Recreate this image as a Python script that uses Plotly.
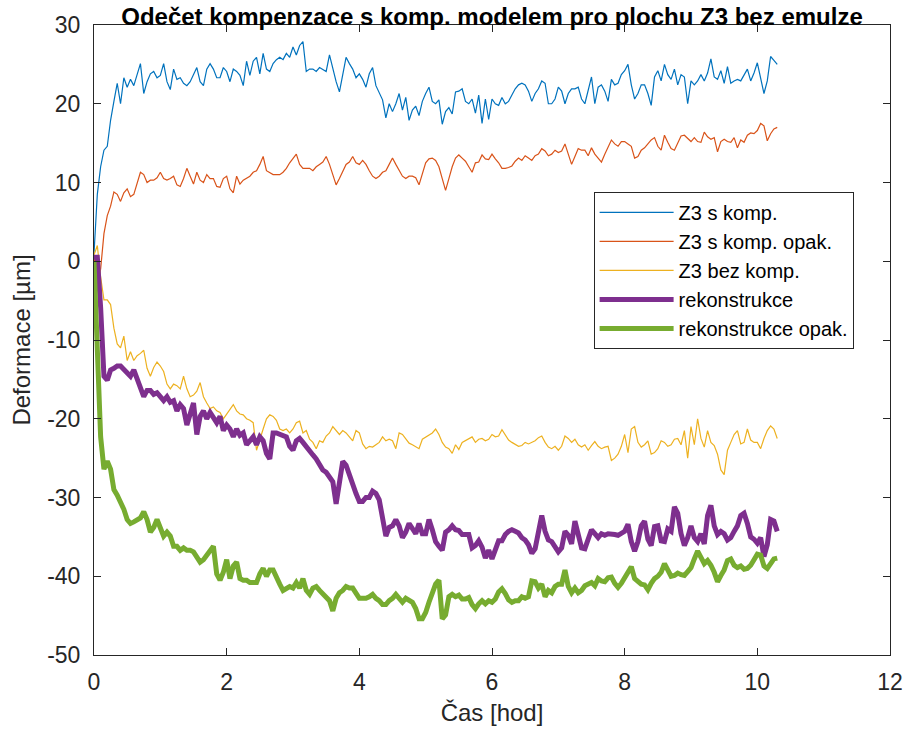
import numpy as np
import plotly.graph_objects as go

# Sampling times [h], one sample every 3 minutes
cas_hod = np.round(np.arange(207) * 0.05, 2)

# Axis ticks and their labels (plain hyphen as the minus sign)
x_ticks = [0, 2, 4, 6, 8, 10, 12]
y_ticks = [-50, -40, -30, -20, -10, 0, 10, 20, 30]
y_tick_labels = ["-50", "-40", "-30", "-20", "-10", "0", "10", "20", "30"]

z3_s_komp = [
    1.0, 8.5, 12.0, 14.1, 14.6, 17.9, 20.3, 22.6, 20.0, 23.3,
    22.1, 23.1, 22.3, 23.8, 25.1, 21.3, 22.8, 23.8, 24.1, 23.3,
    23.6, 25.1, 22.8, 21.8, 24.4, 23.1, 23.3, 22.6, 22.3, 22.8,
    23.6, 24.6, 22.8, 22.3, 24.4, 25.1, 24.4, 23.3, 23.3, 24.6,
    24.1, 22.8, 24.4, 24.1, 23.6, 22.3, 25.4, 23.6, 25.4, 25.9,
    23.8, 26.4, 24.4, 24.1, 25.1, 25.6, 25.9, 25.6, 26.4, 25.9,
    27.2, 26.2, 27.4, 27.9, 24.1, 24.4, 24.4, 24.1, 24.6, 24.4,
    24.1, 26.2, 24.4, 22.8, 21.5, 23.8, 25.9, 25.1, 24.4, 23.3,
    23.8, 23.1, 22.1, 23.8, 24.6, 22.3, 21.5, 20.5, 18.2, 20.0,
    19.0, 20.0, 21.3, 19.2, 20.8, 17.9, 19.2, 19.7, 18.5, 20.3,
    21.3, 22.1, 20.3, 20.0, 20.5, 17.4, 19.0, 19.5, 18.7, 21.5,
    21.6, 21.9, 20.3, 20.0, 20.6, 18.8, 21.1, 17.5, 20.6, 18.0,
    20.6, 20.0, 19.8, 20.8, 20.0, 20.3, 21.1, 21.9, 22.4, 22.6,
    22.4, 21.6, 20.3, 21.3, 21.9, 22.9, 22.6, 20.0, 20.0, 20.6,
    22.1, 21.6, 20.0, 21.3, 21.9, 21.9, 22.1, 20.6, 20.0, 21.9,
    23.4, 20.0, 22.1, 22.4, 21.6, 20.3, 23.1, 22.4, 22.6, 23.7,
    24.2, 25.0, 22.4, 20.6, 21.3, 22.4, 22.4, 21.3, 19.8, 23.4,
    24.2, 22.9, 25.0, 23.7, 23.1, 24.4, 22.4, 23.7, 23.4, 20.0,
    22.9, 22.4, 22.9, 23.7, 22.9, 23.9, 25.7, 23.4, 23.1, 24.2,
    22.6, 24.7, 22.6, 22.9, 23.1, 22.9, 23.7, 24.4, 22.9, 23.9,
    25.2, 23.1, 21.3, 22.9, 26.0, 25.5, 25.0,
]

z3_s_komp_opak = [
    0.5, -2.5, -1.0, 3.5, 5.8, 7.0, 8.8, 8.5, 7.6, 8.7,
    9.2, 8.2, 8.5, 10.0, 11.3, 11.0, 10.0, 10.3, 10.3, 10.6,
    11.3, 10.5, 10.3, 10.5, 10.8, 9.7, 9.5, 10.5, 11.8, 10.8,
    9.8, 11.3, 10.3, 10.0, 11.0, 10.5, 10.5, 9.5, 9.4, 10.5,
    10.8, 9.2, 8.7, 10.8, 9.8, 10.3, 10.6, 10.8, 11.3, 11.5,
    12.3, 13.3, 11.5, 11.3, 11.0, 11.0, 11.0, 11.3, 11.8, 12.5,
    13.0, 13.6, 12.3, 11.8, 11.8, 11.8, 11.5, 12.0, 12.3, 12.6,
    13.3, 12.3, 11.0, 9.7, 10.5, 11.5, 12.3, 12.6, 13.3, 12.5,
    12.3, 12.8, 12.3, 11.5, 10.8, 10.5, 10.8, 11.3, 11.5, 12.3,
    13.1, 12.3, 11.5, 10.8, 10.5, 10.8, 10.8, 10.6, 9.7, 11.0,
    12.5, 13.0, 13.1, 12.8, 12.0, 10.5, 9.0, 10.5, 12.0, 13.1,
    13.5, 13.1, 12.7, 12.0, 11.3, 12.5, 12.6, 13.5, 13.0, 12.9,
    13.6, 13.0, 12.5, 11.8, 11.8, 11.9, 12.1, 12.7, 13.1, 12.8,
    13.4, 13.1, 12.8, 13.4, 13.6, 14.3, 14.0, 13.4, 13.6, 14.1,
    13.8, 14.0, 14.9, 13.6, 12.3, 13.3, 14.3, 14.1, 14.1, 13.4,
    14.4, 13.6, 13.1, 12.6, 13.6, 14.6, 15.4, 14.9, 14.6, 15.2,
    15.2, 14.9, 14.6, 13.1, 13.3, 14.1, 14.4, 14.9, 15.4, 15.7,
    14.6, 14.1, 16.0, 15.1, 14.3, 14.1, 15.1, 15.9, 16.0, 15.6,
    15.2, 15.7, 15.2, 15.1, 16.4, 15.8, 15.5, 15.7, 13.9, 15.2,
    15.5, 15.2, 15.1, 15.7, 14.4, 15.4, 15.1, 16.0, 16.3, 16.2,
    16.6, 17.5, 17.2, 15.3, 16.2, 16.8, 17.0,
]

z3_bez_komp = [
    0.8, 2.0, -2.0, -4.9, -4.9, -5.5, -8.5, -10.5, -11.0, -9.5,
    -12.6, -11.5, -12.6, -12.0, -11.7, -11.3, -13.6, -14.6, -13.5, -12.8,
    -13.3, -14.0, -15.6, -16.2, -15.6, -15.8, -16.2, -14.6, -16.2, -17.2,
    -17.0, -16.5, -15.4, -17.2, -18.0, -18.7, -18.5, -19.0, -19.2, -20.0,
    -19.4, -18.8, -18.2, -19.0, -19.4, -19.5, -20.0, -20.2, -20.5, -24.0,
    -22.5, -21.3, -20.0, -19.5, -19.7, -20.2, -21.3, -21.5, -21.3, -21.8,
    -21.3, -20.5, -20.3, -21.8, -21.5, -22.6, -23.0, -23.8, -22.8, -23.0,
    -22.2, -21.8, -21.0, -21.5, -22.0, -21.5, -21.8, -22.3, -22.8, -21.5,
    -21.8, -23.2, -23.8, -23.5, -23.6, -23.3, -23.0, -22.3, -22.8, -22.6,
    -22.8, -23.8, -21.8, -22.0, -22.5, -23.1, -23.3, -23.6, -23.8, -22.6,
    -22.3, -22.0, -21.8, -21.3, -22.0, -23.0, -23.6, -23.8, -24.4, -23.3,
    -23.9, -23.0, -22.8, -22.5, -22.3, -23.0, -22.6, -22.5, -22.8, -22.6,
    -22.0, -22.3, -22.2, -21.4, -22.0, -22.7, -23.0, -23.3, -23.5, -23.4,
    -23.0, -23.2, -23.0, -22.8, -22.4, -22.2, -23.0, -23.6, -23.8, -23.5,
    -24.0, -23.5, -22.2, -22.5, -23.0, -22.6, -23.3, -23.6, -23.3, -24.0,
    -23.4, -22.9, -23.5, -23.8, -23.6, -23.5, -25.3, -25.0, -24.5, -23.5,
    -22.0, -24.3, -21.3, -21.0, -23.0, -23.6, -23.3, -22.8, -24.5, -24.3,
    -23.8, -22.8, -23.0, -23.5, -23.3, -22.6, -22.5, -23.3, -21.5, -25.0,
    -21.0, -23.3, -20.0, -22.5, -23.6, -21.5, -23.0, -23.4, -24.5, -26.5,
    -27.1, -24.0, -23.0, -22.0, -21.5, -23.2, -23.0, -21.3, -22.7, -23.0,
    -23.0, -23.8, -22.5, -21.5, -20.9, -21.3, -22.5,
]

rekonstrukce = [
    0.5, 0.5, -5.9, -14.6, -15.1, -13.8, -13.6, -13.3, -13.3, -13.8,
    -14.1, -14.6, -13.8, -14.9, -16.2, -17.2, -16.4, -16.4, -16.9, -16.7,
    -17.2, -17.7, -17.2, -17.9, -17.7, -19.0, -18.2, -18.7, -20.8, -19.5,
    -18.0, -22.0, -19.7, -19.0, -20.0, -19.2, -19.8, -20.5, -19.7, -21.5,
    -20.8, -21.3, -22.3, -21.3, -22.1, -21.8, -23.3, -22.8, -22.3, -23.3,
    -22.3, -22.8, -24.4, -25.1, -21.8, -21.8, -22.0, -22.1, -22.3, -23.5,
    -24.0, -22.8, -22.5, -23.0, -23.6, -24.1, -24.6, -25.1, -25.8, -26.5,
    -26.8, -27.3, -28.0, -30.8, -27.5, -25.4, -25.9, -27.2, -28.2, -29.5,
    -30.5, -30.5, -30.0, -30.0, -29.2, -29.5, -30.3, -32.3, -34.9, -33.8,
    -33.6, -32.8, -33.6, -35.1, -34.4, -33.3, -34.1, -34.6, -33.3, -34.6,
    -34.6, -32.8, -34.1, -35.6, -36.2, -36.7, -34.4, -34.1, -33.6, -34.1,
    -34.2, -34.7, -34.7, -34.7, -36.4, -36.1, -35.5, -36.3, -37.7, -36.7,
    -37.8, -36.7, -35.5, -35.5, -34.7, -34.3, -34.1, -34.3, -34.5, -35.1,
    -35.4, -36.0, -37.1, -36.5, -34.6, -32.3, -34.3, -35.4, -35.6, -36.4,
    -36.9, -36.4, -34.3, -34.8, -35.9, -33.0, -35.0, -36.4, -36.5, -35.3,
    -34.1, -34.6, -35.1, -34.6, -34.8, -34.6, -34.6, -34.7, -34.8, -34.6,
    -34.3, -33.4, -35.6, -36.8, -35.6, -33.6, -33.0, -35.3, -36.1, -33.7,
    -33.6, -35.5, -35.6, -34.0, -34.3, -31.2, -32.0, -34.6, -36.1, -35.1,
    -33.6, -35.1, -35.6, -34.6, -35.9, -32.3, -31.0, -33.6, -34.7, -34.3,
    -34.6, -35.4, -35.1, -34.3, -33.6, -32.3, -32.0, -33.3, -35.0, -35.3,
    -35.8, -35.1, -37.5, -36.0, -32.8, -33.0, -34.3,
]

rekonstrukce_opak = [
    0.0, -12.0, -22.3, -26.4, -25.4, -26.4, -29.0, -29.7, -30.5, -31.5,
    -32.8, -33.3, -33.1, -32.8, -32.6, -31.8, -32.8, -34.4, -33.8, -32.8,
    -33.8, -34.9, -34.4, -34.9, -36.2, -36.2, -36.7, -36.4, -36.7, -36.7,
    -36.9, -37.7, -38.2, -37.9, -37.4, -36.9, -36.2, -39.7, -40.5, -39.5,
    -37.9, -40.3, -38.7, -38.2, -40.3, -40.5, -40.5, -40.8, -40.8, -40.8,
    -39.7, -39.0, -40.0, -39.2, -39.2, -40.3, -41.0, -41.8, -41.5, -41.3,
    -41.5, -40.8, -41.5, -40.3, -41.8, -42.3, -41.5, -41.3, -41.8, -42.3,
    -42.8, -43.1, -44.4, -42.8, -42.1, -41.8, -41.3, -41.5, -41.5, -42.3,
    -42.8, -42.8, -42.8, -42.6, -42.3, -42.8, -43.1, -43.6, -43.6, -43.1,
    -42.8, -42.3, -42.8, -43.3, -42.8, -43.1, -43.3, -44.1, -45.4, -45.4,
    -44.6, -43.3, -42.3, -41.0, -40.5, -45.4, -44.9, -42.6, -42.3, -42.6,
    -42.4, -42.9, -42.9, -42.7, -43.6, -44.1, -43.5, -43.1, -43.5, -43.1,
    -43.3, -42.9, -42.0, -41.6, -42.2, -43.0, -43.3, -43.1, -43.1, -42.6,
    -42.8, -42.6, -40.6, -40.7, -41.5, -41.0, -42.6, -41.8, -42.1, -41.3,
    -41.0, -41.0, -39.2, -41.3, -42.1, -41.5, -42.1, -41.8, -41.2, -41.0,
    -40.8, -41.2, -40.3, -40.6, -40.7, -40.2, -40.1, -40.9, -41.4, -40.9,
    -40.2, -39.6, -38.8, -40.3, -40.6, -41.0, -41.1, -41.7, -40.9, -40.3,
    -40.0, -39.5, -38.4, -39.3, -40.0, -39.9, -39.6, -39.8, -39.9, -39.4,
    -38.9, -37.8, -36.8, -37.6, -38.4, -38.0, -38.6, -39.5, -40.7, -39.9,
    -39.2, -38.0, -37.8, -38.6, -38.9, -38.7, -39.1, -39.0, -38.6, -37.9,
    -37.2, -37.3, -38.7, -39.0, -38.4, -37.8, -37.7,
]

rady = [
    ("Z3 s komp.", z3_s_komp, "#0072BD", 1.2),
    ("Z3 s komp. opak.", z3_s_komp_opak, "#D95319", 1.2),
    ("Z3 bez komp.", z3_bez_komp, "#EDB120", 1.2),
    ("rekonstrukce", rekonstrukce, "#7E2F8E", 5),
    ("rekonstrukce opak.", rekonstrukce_opak, "#77AC30", 5),
]

fig = go.Figure()
for nazev, hodnoty, barva, sirka in rady:
    fig.add_trace(go.Scatter(
        x=cas_hod, y=hodnoty, mode="lines", name=nazev,
        line=dict(color=barva, width=sirka),
    ))

W, H = 915, 734
L, R, T, B = 94, 18, 21, 79

osa = dict(
    showline=True, linecolor="#262626", linewidth=1, mirror="ticks",
    ticks="inside", ticklen=7, tickcolor="#262626", tickwidth=1,
    showgrid=False, zeroline=False,
    tickfont=dict(size=23, color="#262626"),
)

fig.update_layout(
    width=W, height=H,
    margin=dict(l=L, r=R, t=T, b=B),
    paper_bgcolor="white", plot_bgcolor="white",
    font=dict(family="Liberation Sans, Arial, sans-serif", color="#262626"),
    title=dict(
        text="<b>Odečet kompenzace s komp. modelem pro plochu Z3 bez emulze</b>",
        font=dict(size=24, color="#000000"),
        x=0.5, xref="paper", xanchor="center",
        y=1 - 25 / H, yref="container", yanchor="bottom",
    ),
    xaxis=dict(
        osa, range=[0, 12], tickvals=x_ticks,
        ticklabelstandoff=6,
        title=dict(text="Čas [hod]", font=dict(size=24, color="#262626"), standoff=10),
    ),
    yaxis=dict(
        osa, range=[-50, 30], tickvals=y_ticks, ticktext=y_tick_labels,
        ticklabelstandoff=8,
        title=dict(text="Deformace [µm]", font=dict(size=24, color="#262626"), standoff=9),
    ),
    legend=dict(
        x=(598 - L) / (W - L - R), y=(H - B - 189) / (H - T - B),
        xanchor="left", yanchor="top",
        bgcolor="white", bordercolor="#262626", borderwidth=1,
        font=dict(size=20, color="#000000"),
        itemwidth=74, tracegroupgap=0,
    ),
    showlegend=True,
)

fig.write_html("out.html")
